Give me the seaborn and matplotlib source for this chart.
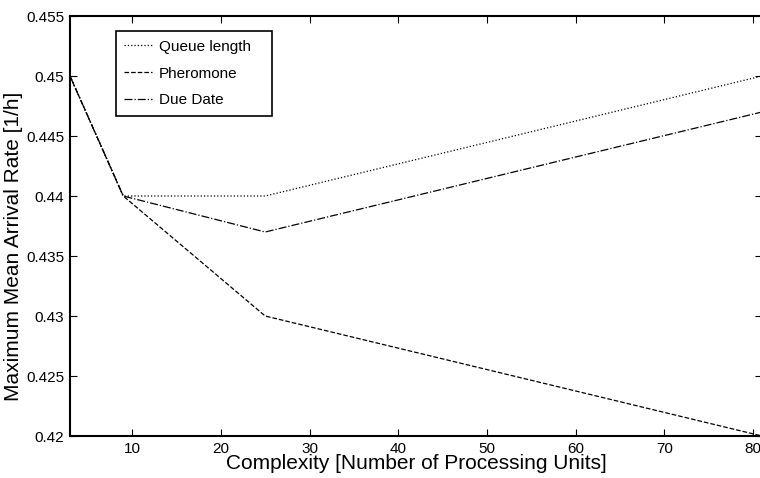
# -*- coding: UTF-8 -*-
# libraries and data
import matplotlib
matplotlib.use("Agg")
import matplotlib.pyplot as plt
import pandas as pd
import seaborn as sns

complexity = [3, 9, 25, 81]
queue_length = [0.450, 0.440, 0.440, 0.450]
pheromone = [0.450, 0.440, 0.430, 0.420]
due_date = [0.450, 0.440, 0.437, 0.447]

series = ["Queue length", "Pheromone", "Due Date"]
styles = [":", "--", "-."]

sns.set_style("ticks")
plt.rcParams['font.family'] = ['Liberation Sans', 'DejaVu Sans']
plt.rcParams['xtick.direction'] = 'in'
plt.rcParams['ytick.direction'] = 'in'
plt.rcParams['text.color'] = 'black'
plt.rcParams['axes.labelcolor'] = 'black'
plt.rcParams['xtick.color'] = 'black'
plt.rcParams['ytick.color'] = 'black'

df = pd.DataFrame({"Complexity": complexity,
                   "Queue length": queue_length,
                   "Pheromone": pheromone,
                   "Due Date": due_date})

fig = plt.figure(figsize=(7.6, 4.78), dpi=100)
ax = fig.add_axes([70 / 760, 1 - 436 / 478, 692 / 760, 420 / 478])

for name, ls in zip(series, styles):
    sns.lineplot(data=df, x="Complexity", y=name, ax=ax, color="black",
                 linestyle=ls, linewidth=0.9, label=name)

ax.set_xlim(3, 81)
ax.set_ylim(0.42, 0.455)
ax.set_xticks([10, 20, 30, 40, 50, 60, 70, 80])
ax.set_yticks([0.42, 0.425, 0.43, 0.435, 0.44, 0.445, 0.45, 0.455])
ax.set_yticklabels(["0.42", "0.425", "0.43", "0.435", "0.44", "0.445", "0.45", "0.455"])
ax.tick_params(axis='both', labelsize=11, top=True, right=True, length=5, width=0.8, pad=4)
for s in ax.spines.values():
    s.set_linewidth(1.5)
    s.set_color("black")

ax.set_xlabel("Complexity [Number of Processing Units]", fontsize=15, labelpad=-1)
ax.set_ylabel("Maximum Mean Arrival Rate [1/h]", fontsize=15)
ax.yaxis.set_label_coords(-0.068, 0.452)

# legend box stretched to the same width as the original
leg = ax.legend(loc="upper left", bbox_to_anchor=(0.0665, 0.5, 0.2254, 0.464),
                mode="expand", borderaxespad=0,
                fontsize=11, frameon=True, fancybox=False, handlelength=1.8,
                handletextpad=0.45, edgecolor="black", framealpha=1,
                borderpad=0.55, labelspacing=0.85)
leg.get_frame().set_linewidth(1.2)

plt.savefig("out.png", dpi=100)
